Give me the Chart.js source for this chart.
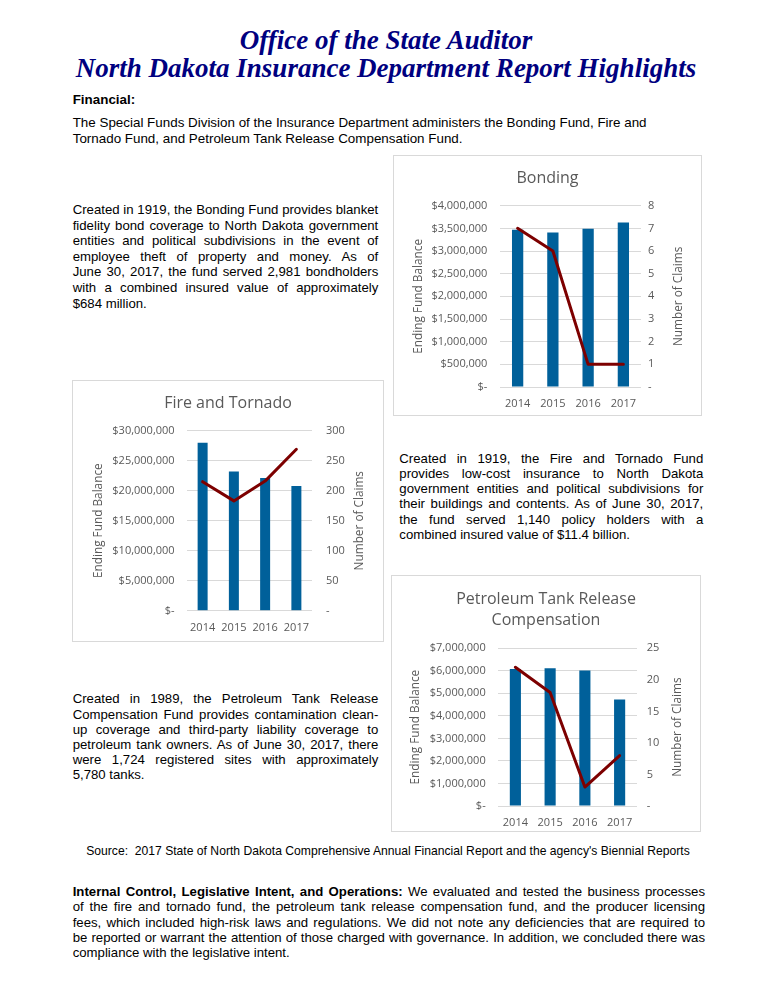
<!DOCTYPE html>
<html>
<head>
<meta charset="utf-8">
<script src="https://cdn.jsdelivr.net/npm/chart.js@4.4.1/dist/chart.umd.min.js"></script>
<style>
  body { margin: 0; background: #fff; width: 772px; height: 989px; position: relative; overflow: hidden;
         font-family: "Liberation Sans", Arial, sans-serif; font-size: 13.2px; color: #000; }
  .head { position: absolute; left: 0; width: 772px; text-align: center; font-family: "Liberation Serif", serif;
          font-weight: bold; font-style: italic; font-size: 27px; line-height: 30px; color: #000080; }
  .ln { position: absolute; white-space: normal; }
  .j { text-align: justify; text-align-last: justify; }
  .box { position: absolute; border: 1px solid #d9d9d9; box-sizing: border-box; background: #fff; }
  .box canvas { display: block; }
</style>
</head>
<body>

<div class="head" style="top:25px">Office of the State Auditor</div>
<div class="head" style="top:53px">North Dakota Insurance Department Report Highlights</div>

<div id="page"></div>

<div class="box" style="left:393px; top:155px; width:309px; height:261px;"><canvas id="bonding" width="307" height="259"></canvas></div>
<div class="box" style="left:72px; top:380px; width:312px; height:262px;"><canvas id="fire" width="310" height="260"></canvas></div>
<div class="box" style="left:391px; top:575px; width:310px; height:257px;"><canvas id="petro" width="308" height="255"></canvas></div>

<script>
// ---- data ----
const years = ['2014', '2015', '2016', '2017'];

const bondingBalance = [3470000, 3410000, 3490000, 3630000];
const bondingClaims = [7, 6, 1, 1];
const bondingBalanceAxis = [0, 4000000, 500000];   // min, max, step
const bondingClaimsAxis = [0, 8, 1];

const fireBalance = [28000000, 23200000, 22100000, 20800000];
const fireClaims = [215, 183, 216, 269];
const fireBalanceAxis = [0, 30000000, 5000000];
const fireClaimsAxis = [0, 300, 50];

const petroBalance = [6080000, 6120000, 6020000, 4730000];
const petroClaims = [22, 18, 3, 8];
const petroBalanceAxis = [0, 7000000, 1000000];
const petroClaimsAxis = [0, 25, 5];

// ---- styles ----
const BAR_BLUE = '#00609a';
const LINE_RED = '#7d0000';
const TXT = '#595959';
const GRID = '#d9d9d9';
const FONT = '"Open Sans", "Noto Sans", sans-serif';

// ---- page text ----
function textBlock(left, width, firstCenter, step, lines, justify, size) {
    const page = document.getElementById('page');
    lines.forEach((line, i) => {
        const el = document.createElement('div');
        el.className = 'ln' + (justify && i < lines.length - 1 ? ' j' : '');
        el.style.left = left + 'px';
        el.style.width = width + 'px';
        el.style.top = (firstCenter + i * step - step / 2) + 'px';
        el.style.height = step + 'px';
        el.style.lineHeight = step + 'px';
        if (size) el.style.fontSize = size + 'px';
        el.innerHTML = line;
        page.appendChild(el);
    });
}

textBlock(72.7, 200, 99.7, 16, ['<b>Financial:</b>'], false, 13.4);
textBlock(72.7, 660, 123.3, 15.7, [
    'The Special Funds Division of the Insurance Department administers the Bonding Fund, Fire and',
    'Tornado Fund, and Petroleum Tank Release Compensation Fund.'
], false, 13.4);

textBlock(72.7, 305.6, 210, 15.55, [
    'Created in 1919, the Bonding Fund provides blanket',
    'fidelity bond coverage to North Dakota government',
    'entities and political subdivisions in the event of',
    'employee theft of property and money. As of',
    'June 30, 2017, the fund served 2,981 bondholders',
    'with a combined insured value of approximately',
    '$684 million.'
], true);

textBlock(399.3, 304, 458.3, 15.2, [
    'Created in 1919, the Fire and Tornado Fund',
    'provides low-cost insurance to North Dakota',
    'government entities and political subdivisions for',
    'their buildings and contents. As of June 30, 2017,',
    'the fund served 1,140 policy holders with a',
    'combined insured value of $11.4 billion.'
], true);

textBlock(72.7, 305.6, 699, 15.2, [
    'Created in 1989, the Petroleum Tank Release',
    'Compensation Fund provides contamination clean-',
    'up coverage and third-party liability coverage to',
    'petroleum tank owners. As of June 30, 2017, there',
    'were 1,724 registered sites with approximately',
    '5,780 tanks.'
], true);

textBlock(18, 740, 851, 16, [
    '<div style="text-align:center; white-space:nowrap">Source:&nbsp; 2017 State of North Dakota Comprehensive Annual Financial Report and the agency\'s Biennial Reports</div>'
], false, 12.15);

textBlock(72.7, 632.3, 891.7, 15.3, [
    '<b>Internal Control, Legislative Intent, and Operations:</b> We evaluated and tested the business processes',
    'of the fire and tornado fund, the petroleum tank release compensation fund, and the producer licensing',
    'fees, which included high-risk laws and regulations. We did not note any deficiencies that are required to',
    'be reported or warrant the attention of those charged with governance. In addition, we concluded there was',
    'compliance with the legislative intent.'
], true);

// ---- charts ----
const money = v => v === 0 ? '$-' : '$' + v.toLocaleString('en-US');
const count = v => v === 0 ? '-' : String(v);

// draws "Number of Claims" reading bottom-to-top like the left title
const rightTitle = {
    id: 'rightTitle',
    afterDraw(chart, args, opts) {
        const s = chart.scales.y1;
        const ctx = chart.ctx;
        ctx.save();
        ctx.translate(opts.x, (s.top + s.bottom) / 2);
        ctx.rotate(-Math.PI / 2);
        ctx.font = '11.8px ' + FONT;
        ctx.fillStyle = TXT;
        ctx.textAlign = 'center';
        ctx.textBaseline = 'middle';
        ctx.fillText(opts.text, 0, 0);
        ctx.restore();
    }
};

// g holds canvas-space geometry measured from the report
function comboChart(id, title, balance, claims, balAxis, claimAxis, g) {
    const canvas = document.getElementById(id);
    const lines = Array.isArray(title) ? title.length : 1;
    const titleLH = g.titleLH || 19.2;
    const tick = { color: TXT, font: { family: FONT, size: 11 } };
    return new Chart(canvas, {
        data: {
            labels: years,
            datasets: [
                {
                    type: 'line',
                    label: 'Number of Claims',
                    data: claims,
                    yAxisID: 'y1',
                    borderColor: LINE_RED,
                    borderWidth: 3,
                    borderJoinStyle: 'round',
                    borderCapStyle: 'round',
                    pointRadius: 0,
                    tension: 0,
                    order: 1
                },
                {
                    type: 'bar',
                    label: 'Ending Fund Balance',
                    data: balance,
                    yAxisID: 'y',
                    backgroundColor: BAR_BLUE,
                    categoryPercentage: 1,
                    barPercentage: 0.32,
                    order: 2
                }
            ]
        },
        options: {
            responsive: false,
            animation: false,
            events: [],
            layout: { padding: 0 },
            scales: {
                x: {
                    grid: { display: false, drawTicks: false },
                    border: { display: false },
                    ticks: { ...tick, padding: g.xPad, maxRotation: 0 },
                    afterFit: s => { s.height = canvas.height - g.plotBottom; }
                },
                y: {
                    position: 'left',
                    min: balAxis[0],
                    max: balAxis[1],
                    ticks: { ...tick, stepSize: balAxis[2], padding: g.yPad, callback: money },
                    grid: { color: GRID, drawTicks: false, lineWidth: 1 },
                    border: { display: false },
                    title: {
                        display: true,
                        text: 'Ending Fund Balance',
                        color: TXT,
                        font: { family: FONT, size: 11.8, lineHeight: 1.2 },
                        padding: { top: g.yTitle - 7.1, bottom: 0 }
                    },
                    afterFit: s => { s.width = g.plotLeft; }
                },
                y1: {
                    position: 'right',
                    min: claimAxis[0],
                    max: claimAxis[1],
                    ticks: { ...tick, stepSize: claimAxis[2], padding: g.y1Pad, callback: count },
                    grid: { display: false, drawTicks: false },
                    border: { display: false },
                    afterFit: s => { s.width = canvas.width - g.plotRight; }
                }
            },
            plugins: {
                legend: { display: false },
                tooltip: { enabled: false },
                title: {
                    display: true,
                    text: title,
                    color: TXT,
                    font: { family: FONT, size: 16, weight: 'normal', lineHeight: titleLH / 16 },
                    padding: { top: g.titleCenter - titleLH / 2, bottom: g.plotTop - g.titleCenter + titleLH / 2 - lines * titleLH }
                },
                rightTitle: { x: g.y1Title, text: 'Number of Claims' }
            }
        },
        plugins: [rightTitle]
    });
}

comboChart('bonding', 'Bonding', bondingBalance, bondingClaims, bondingBalanceAxis, bondingClaimsAxis, {
    titleCenter: 22, plotTop: 49.7, plotBottom: 231, plotLeft: 106, plotRight: 247,
    yPad: 12.6, y1Pad: 7, yTitle: 24.3, y1Title: 285, xPad: 10
});

comboChart('fire', 'Fire and Tornado', fireBalance, fireClaims, fireBalanceAxis, fireClaimsAxis, {
    titleCenter: 22.3, plotTop: 49.7, plotBottom: 229.7, plotLeft: 114, plotRight: 239,
    yPad: 12.4, y1Pad: 14, yTitle: 25.3, y1Title: 287, xPad: 10.6
});

comboChart('petro', ['Petroleum Tank Release', 'Compensation'], petroBalance, petroClaims, petroBalanceAxis, petroClaimsAxis, {
    titleCenter: 23, titleLH: 21.7, plotTop: 72.3, plotBottom: 230, plotLeft: 106, plotRight: 245,
    yPad: 12.3, y1Pad: 9.7, yTitle: 24, y1Title: 285.3, xPad: 10.3
});
</script>
</body>
</html>
